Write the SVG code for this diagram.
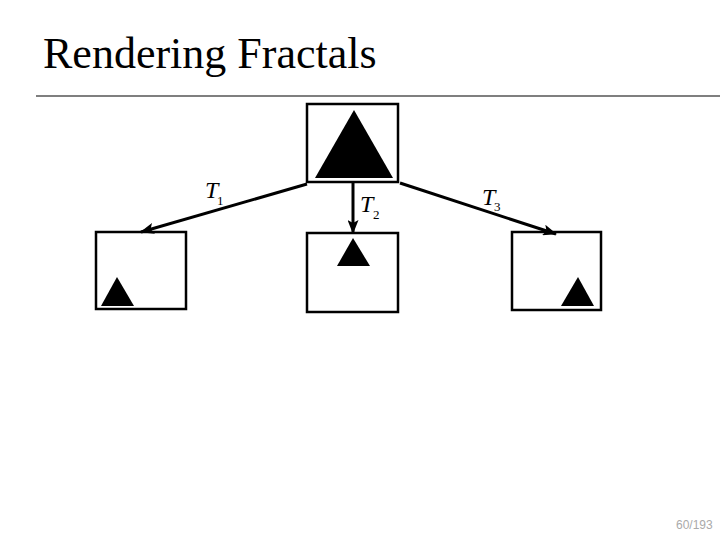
<svg xmlns="http://www.w3.org/2000/svg" width="720" height="540" viewBox="0 0 720 540">
<defs>
<style>
.box{fill:#fff;stroke:#000;stroke-width:2.5}
.tri{fill:#000}
.conn{stroke:#000;stroke-width:3;fill:none}
.lbl{font-family:"Liberation Serif",serif;font-style:italic;font-size:24px;fill:#000}
.sub{font-family:"Liberation Serif",serif;font-size:13px;fill:#000}
</style>
<marker id="ah" markerWidth="14" markerHeight="11" refX="13" refY="5.5" orient="auto" markerUnits="userSpaceOnUse">
<path d="M0,0 L14,5.5 L0,11 L3,5.5 z" fill="#000"/>
</marker>
</defs>
<rect width="720" height="540" fill="#fff"/>
<text x="43" y="68" font-family="Liberation Serif, serif" font-size="44" fill="#000">Rendering Fractals</text>
<line x1="36" y1="96" x2="720" y2="96" stroke="#000" stroke-width="1.2"/>
<g id="top">
<rect class="box" x="307" y="104" width="91" height="78"/>
<polygon class="tri" points="354,110 393,178 315,178"/>
</g>
<g id="left">
<rect class="box" x="96" y="232" width="90" height="77"/>
<polygon class="tri" points="117,277 134,306 101,306"/>
</g>
<g id="middle">
<rect class="box" x="307" y="233" width="91" height="79"/>
<polygon class="tri" points="353,238 370,266 337,266"/>
</g>
<g id="right">
<rect class="box" x="512" y="232" width="89" height="78"/>
<polygon class="tri" points="578,277 594,306 561,306"/>
</g>
<g id="connectors">
<line class="conn" x1="307" y1="184" x2="141" y2="232" marker-end="url(#ah)"/>
<line class="conn" x1="353" y1="183" x2="353" y2="233" marker-end="url(#ah)"/>
<line class="conn" x1="400" y1="183" x2="556" y2="234" marker-end="url(#ah)"/>
<text class="lbl" x="205" y="198">T</text><text class="sub" x="217" y="205">1</text>
<text class="lbl" x="360" y="212">T</text><text class="sub" x="373" y="219">2</text>
<text class="lbl" x="482" y="205">T</text><text class="sub" x="494" y="211">3</text>
</g>
<text x="676" y="529" font-family="Liberation Sans, sans-serif" font-size="12" fill="#aaa">60/193</text>
</svg>
